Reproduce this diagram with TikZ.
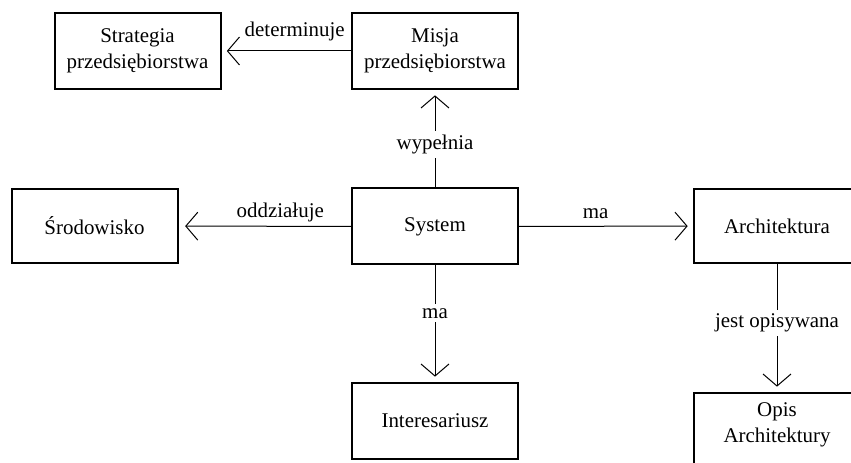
\documentclass[tikz,border=0pt]{standalone}
\usepackage{fontspec}
\setmainfont{Liberation Serif}
\newfontfamily\szeryf{Liberation Serif}
\usetikzlibrary{arrows.meta}
\begin{document}
\begin{tikzpicture}[x=0.75pt,y=-0.75pt,
	blok/.style={draw,line width=1.5pt,align=center,inner sep=0pt,
		minimum width=124.5pt,minimum height=57pt,
		font=\szeryf\fontsize{15.7}{19.5}\selectfont},
	rel/.style={line width=0.75pt,-{Straight Barb[length=9pt,width=21pt]},shorten >=4pt},
	opis/.style={font=\szeryf\fontsize{15.7}{19.5}\selectfont,anchor=base},
	przerwa/.style={font=\szeryf\fontsize{15.7}{19.5}\selectfont,fill=white,inner sep=3pt}]
	\useasboundingbox (0,0) rectangle (851,463);
	\clip (0,0) rectangle (851,463);
	% bloki
	\node[blok] (strategia) at (137.5,51) {Strategia\\przedsiębiorstwa};
	\node[blok] (misja) at (435,51) {Misja\\przedsiębiorstwa};
	\node[blok,minimum height=55.5pt] (srodowisko) at (94.5,226) {Środowisko};
	\node[blok] (system) at (435,226.5) {System};
	\node[blok,minimum height=55.5pt] (architektura) at (777,226) {Architektura};
	\node[blok] (interesariusz) at (435,421) {Interesariusz};
	\node[blok] (opisarch) at (777,431) {Opis\\Architektury\\[-7pt]\mbox{}};
	% relacje
	\draw[rel] (misja) -- node[opis,pos=0.435,yshift=10.5pt] {determinuje} (strategia);
	\draw[rel] (system) -- node[przerwa,pos=0.44] {wypełnia} (misja);
	\draw[rel,shorten >=5pt] (system) -- node[opis,pos=0.41,yshift=6.75pt] {oddziałuje} (srodowisko);
	\draw[rel] (system) -- node[opis,pos=0.44,yshift=6pt] {ma} (architektura);
	\draw[rel] (system) -- node[przerwa,pos=0.41] {ma} (interesariusz);
	\draw[rel] (architektura) -- node[przerwa,pos=0.46] {jest opisywana} (opisarch);
\end{tikzpicture}
\end{document}
